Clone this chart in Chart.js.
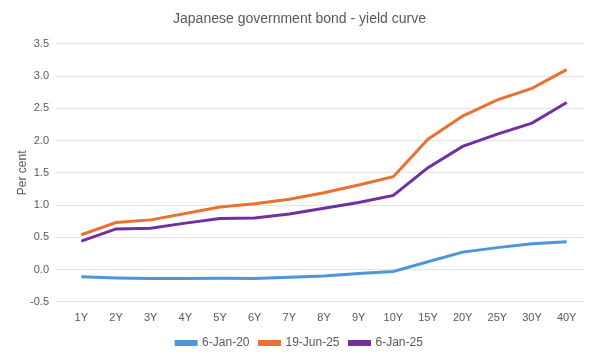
<!DOCTYPE html>
<html><head><meta charset="utf-8">
<script src="https://cdn.jsdelivr.net/npm/chart.js@4/dist/chart.umd.min.js"></script>
<style>html,body{margin:0;padding:0;background:#fff}#wrap{width:600px;height:362px}</style>
</head><body><div id="wrap"><canvas id="c" width="600" height="362"></canvas></div>
<script>
const categories = ["1Y","2Y","3Y","4Y","5Y","6Y","7Y","8Y","9Y","10Y","15Y","20Y","25Y","30Y","40Y"];
const jan20 = [-0.11,-0.13,-0.14,-0.14,-0.135,-0.14,-0.12,-0.10,-0.06,-0.03,0.12,0.27,0.34,0.40,0.43];
const jun25 = [0.54,0.73,0.77,0.87,0.97,1.02,1.09,1.19,1.31,1.44,2.02,2.38,2.63,2.81,3.10];
const jan25 = [0.44,0.63,0.64,0.72,0.79,0.80,0.86,0.95,1.04,1.15,1.58,1.91,2.10,2.27,2.59];
const seriesNames = ["6-Jan-20","19-Jun-25","6-Jan-25"];
const colors = ["#4E95D9","#E97132","#7030A0"];
const font = "'Liberation Sans', Arial, sans-serif";
const txt = "#595959";
new Chart(document.getElementById('c'), {
  type: 'line',
  data: {
    labels: categories,
    datasets: [jan20, jun25, jan25].map((d,i)=>({
      label: seriesNames[i], data: d, borderColor: colors[i], backgroundColor: colors[i],
      borderWidth: 3, pointRadius: 0, tension: 0, fill: false
    }))
  },
  options: {
    responsive: false, animation: false,
    layout: {padding: {left: 15, right: 16, top: 4, bottom: 3}},
    plugins: {
      title: {display: true, text: "Japanese government bond - yield curve", color: txt,
        font: {family: font, size: 14, weight: 'normal'}, padding: {top: 7, bottom: 16}},
      legend: {position: 'bottom', labels: {color: txt, font: {family: font, size: 12},
        boxWidth: 20, boxHeight: 3, padding: 10}},
      tooltip: {enabled: false}
    },
    scales: {
      x: {offset: true, grid: {display: false}, border: {display: false},
        ticks: {color: txt, font: {family: font, size: 11}, maxRotation: 0, autoSkip: false, padding: 2}},
      y: {min: -0.5, max: 3.5, border: {display: false},
        grid: {color: "#E3E3E3", lineWidth: 1},
        afterFit: s => { s.width = 49; },
        ticks: {stepSize: 0.5, color: txt, font: {family: font, size: 11}, padding: 7,
          callback: v => v.toFixed(1)},
        title: {display: true, text: "Per cent", color: txt, font: {family: font, size: 12}, padding: {top: 0, bottom: 4}}
      }
    }
  }
});
</script></body></html>
